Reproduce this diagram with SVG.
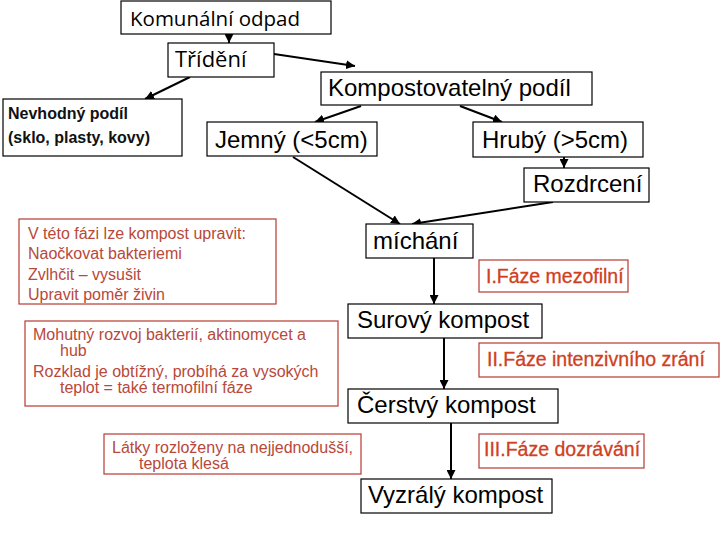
<svg xmlns="http://www.w3.org/2000/svg" width="720" height="540" viewBox="0 0 720 540">
<style>
.b{fill:#fff;stroke:#000;stroke-width:1.2}
.r{fill:#fff;stroke:#b83a32;stroke-width:1.2}
.t{font-family:"Liberation Sans",Arial,sans-serif;font-size:24px;fill:#000}
.o{font-family:"Open Sans","Liberation Sans",sans-serif;fill:#000}
.n{font-family:"Liberation Sans",Arial,sans-serif;font-size:16px;font-weight:bold;fill:#111}
.s{font-family:"Liberation Sans",Arial,sans-serif;font-size:16px;fill:#b8483a}
.p{font-family:"Liberation Sans",Arial,sans-serif;font-size:19.5px;fill:#d0401e;stroke:#d0401e;stroke-width:0.3}
.c{stroke:#000;stroke-width:2;fill:none;marker-end:url(#a)}
</style>
<defs>
<marker id="a" viewBox="0 0 10 10" refX="10" refY="5" markerWidth="4.5" markerHeight="4.5" orient="auto" markerUnits="strokeWidth">
<path d="M0,0 L10,5 L0,10 z" fill="#000"/>
</marker>
</defs>
<g id="connectors">
<line class="c" x1="229" y1="34" x2="229" y2="43"/>
<line class="c" x1="274" y1="54" x2="355" y2="66"/>
<line class="c" x1="190" y1="77" x2="145" y2="99"/>
<line class="c" x1="361" y1="106" x2="315" y2="122"/>
<line class="c" x1="460" y1="106" x2="502" y2="122"/>
<line class="c" x1="564" y1="157" x2="564" y2="168"/>
<line class="c" x1="293" y1="157" x2="400" y2="224"/>
<line class="c" x1="553" y1="202" x2="412" y2="224"/>
<line class="c" x1="434" y1="258" x2="434" y2="304"/>
<line class="c" x1="444" y1="338" x2="444" y2="389"/>
<line class="c" x1="451" y1="423" x2="451" y2="479"/>
</g>
<g id="komunalni">
<rect class="b" x="121" y="1" width="210" height="33"/>
<text class="o" x="130" y="26" font-size="20.5">Komunální odpad</text>
</g>
<g id="trideni">
<rect class="b" x="168" y="43" width="106" height="34"/>
<text class="o" x="175" y="67" font-size="22">Třídění</text>
</g>
<g id="nevhodny">
<rect class="b" x="3" y="99" width="179" height="57"/>
<text class="n" x="8" y="119">Nevhodný podíl</text>
<text class="n" x="8" y="143">(sklo, plasty, kovy)</text>
</g>
<g id="kompostovatelny">
<rect class="b" x="321" y="72" width="271" height="33"/>
<text class="t" x="328" y="96" font-size="23">Kompostovatelný podíl</text>
</g>
<g id="jemny">
<rect class="b" x="207" y="122" width="170" height="34"/>
<text class="t" x="215" y="148">Jemný (&lt;5cm)</text>
</g>
<g id="hruby">
<rect class="b" x="473" y="122" width="170" height="35"/>
<text class="t" x="482" y="148">Hrubý (&gt;5cm)</text>
</g>
<g id="rozdrceni">
<rect class="b" x="524" y="168" width="125" height="34"/>
<text class="t" x="533" y="192">Rozdrcení</text>
</g>
<g id="michani">
<rect class="b" x="366" y="224" width="107" height="34"/>
<text class="t" x="373" y="249">míchání</text>
</g>
<g id="faze1">
<rect class="r" x="479" y="260" width="149" height="32"/>
<text class="p" x="486" y="283">I.Fáze mezofilní</text>
</g>
<g id="surovy">
<rect class="b" x="348" y="304" width="194" height="34"/>
<text class="t" x="357" y="328">Surový kompost</text>
</g>
<g id="faze2">
<rect class="r" x="479" y="343" width="240" height="34"/>
<text class="p" x="487" y="366">II.Fáze intenzivního zrání</text>
</g>
<g id="cerstvy">
<rect class="b" x="348" y="389" width="210" height="34"/>
<text class="t" x="357" y="413">Čerstvý kompost</text>
</g>
<g id="faze3">
<rect class="r" x="479" y="434" width="165" height="34"/>
<text class="p" x="484" y="456">III.Fáze dozrávání</text>
</g>
<g id="vyzraly">
<rect class="b" x="361" y="479" width="191" height="34"/>
<text class="t" x="368" y="503">Vyzrálý kompost</text>
</g>
<g id="upravit">
<rect class="r" x="19" y="219" width="257" height="85"/>
<text class="s" x="28" y="239">V této fázi lze kompost upravit:</text>
<text class="s" x="28" y="259">Naočkovat bakteriemi</text>
<text class="s" x="28" y="280">Zvlhčit – vysušit</text>
<text class="s" x="28" y="300">Upravit poměr živin</text>
</g>
<g id="mohutny">
<rect class="r" x="25" y="321" width="313" height="85"/>
<text class="s" x="33" y="340">Mohutný rozvoj bakterií, aktinomycet a</text>
<text class="s" x="60" y="356">hub</text>
<text class="s" x="33" y="377">Rozklad je obtížný, probíhá za vysokých</text>
<text class="s" x="60" y="393">teplot = také termofilní fáze</text>
</g>
<g id="latky">
<rect class="r" x="104" y="434" width="257" height="40"/>
<text class="s" x="112" y="453">Látky rozloženy na nejjednodušší,</text>
<text class="s" x="139" y="469">teplota klesá</text>
</g>
</svg>
